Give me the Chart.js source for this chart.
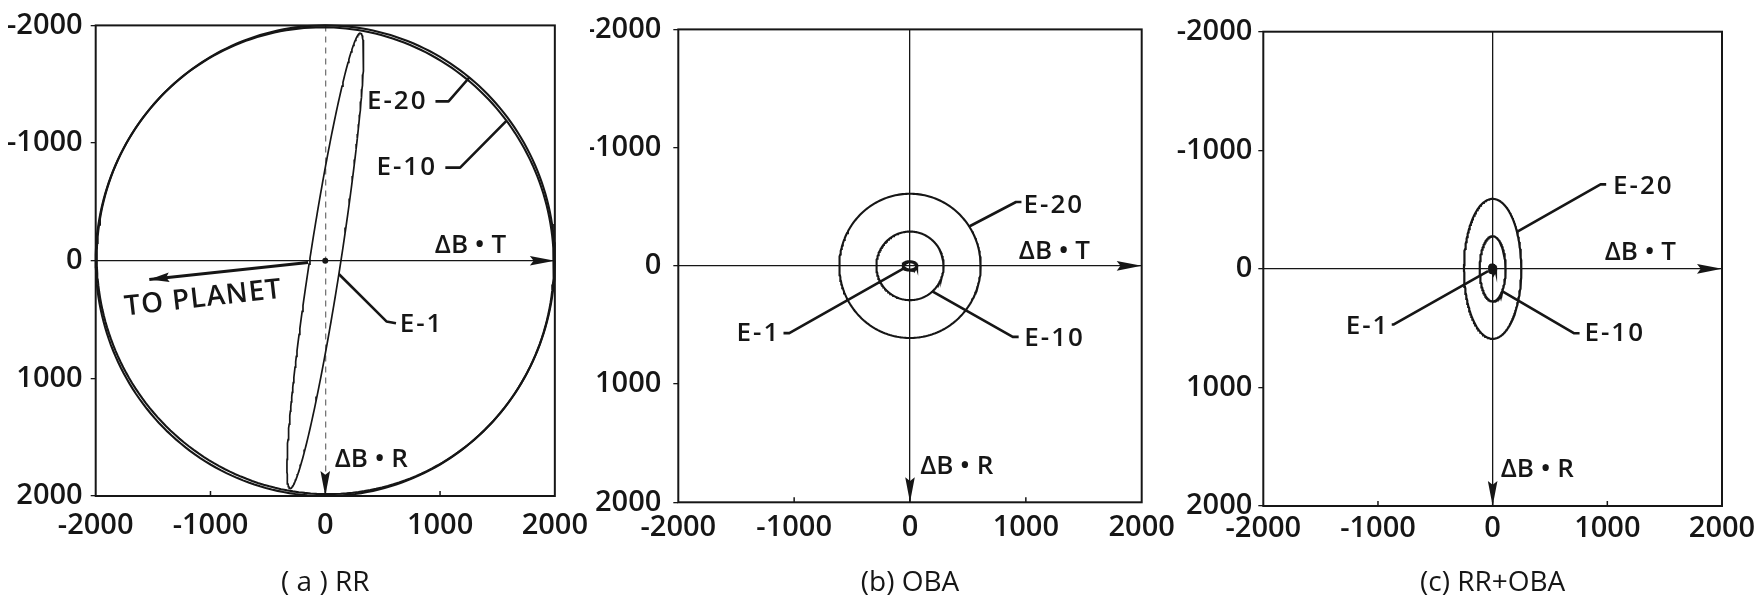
<!DOCTYPE html>
<html>
<head>
<meta charset="utf-8">
<script src="https://cdn.jsdelivr.net/npm/chart.js@4.4.1/dist/chart.umd.min.js"></script>
<style>
  html, body { margin: 0; padding: 0; background: #fff; }
  body { width: 1762px; height: 596px; position: relative; overflow: hidden; }
  .panel { position: absolute; top: 0; height: 596px; }
  #panelA { left: 0; width: 600px; }
  #panelB { left: 590px; width: 600px; }
  #panelC { left: 1175px; width: 587px; }
</style>
</head>
<body>
<div class="panel" id="panelA"><canvas id="chartA"></canvas></div>
<div class="panel" id="panelB"><canvas id="chartB"></canvas></div>
<div class="panel" id="panelC"><canvas id="chartC"></canvas></div>
<script>
const ink = "#161616";
const face = "'Open Sans', Lato, sans-serif";

// Axis ticks (km) and text
const axisTicks = [-2000, -1000, 0, 1000, 2000];
const captions = ["( a ) RR", "(b) OBA", "(c) RR+OBA"];
const ellipseNames = ["E-1", "E-10", "E-20"];
const axisNames = ["ΔB • T", "ΔB • R"];
const planetLabel = "TO PLANET";

// Dispersion ellipses in the B-plane, ordered E-1, E-10, E-20:
// first semi-axis, second semi-axis (km) and tilt of the first axis from ΔB·T (deg, toward +R)
const rrSemiA = [1958, 2000, 2000];
const rrSemiB = [135, 1975, 2000];
const rrTilt = [-81, 37, 0];

const obaSemiA = [60, 290, 610];
const obaSemiB = [35, 290, 610];
const obaTilt = [0, 0, 0];

const rrObaSemiA = [28, 113, 250];
const rrObaSemiB = [32, 275, 590];
const rrObaTilt = [0, 0, 0];

// aim point and the direction to the planet (RR panel)
const aimPoint = [0, 0];
const planetArrowStart = [-150, 15];
const planetArrowEnd = [-1533, 159];

function ellipseOutline(a, b, tiltDeg) {
    const t = tiltDeg * Math.PI / 180;
    const pts = [];
    for (let i = 0; i <= 240; i++) {
        const s = i / 240 * 2 * Math.PI;
        const u = a * Math.cos(s), v = b * Math.sin(s);
        pts.push({ x: u * Math.cos(t) - v * Math.sin(t), y: u * Math.sin(t) + v * Math.cos(t) });
    }
    return pts;
}

function arrowHead(ctx, tip, from, len, half) {
    const ang = Math.atan2(tip[1] - from[1], tip[0] - from[0]);
    ctx.save();
    ctx.translate(tip[0], tip[1]);
    ctx.rotate(ang);
    ctx.beginPath();
    ctx.moveTo(0, 0);
    ctx.lineTo(-len, -half);
    ctx.lineTo(-len * 0.85, 0);
    ctx.lineTo(-len, half);
    ctx.closePath();
    ctx.fill();
    ctx.restore();
}

// frame, axis arrows, leader lines and labels, all placed in data units
const panelMarks = {
    id: "panelMarks",
    afterDatasetsDraw(chart, args, opts) {
        const { ctx, chartArea: area, scales: { x, y } } = chart;
        const px = p => [x.getPixelForValue(p[0]), y.getPixelForValue(p[1])];
        ctx.save();
        ctx.strokeStyle = ink;
        ctx.fillStyle = ink;

        ctx.lineWidth = 2;
        ctx.strokeRect(area.left, area.top, area.right - area.left, area.bottom - area.top);

        // short inward ticks along the bottom edge
        ctx.lineWidth = 1.5;
        axisTicks.slice(1, -1).forEach(v => {
            const xp = x.getPixelForValue(v);
            ctx.beginPath();
            ctx.moveTo(xp, area.bottom);
            ctx.lineTo(xp, area.bottom - 5);
            ctx.stroke();
        });

        const origin = px(aimPoint);
        arrowHead(ctx, px([axisTicks[4], 0]), origin, 25, 4.8);
        arrowHead(ctx, px([0, axisTicks[4]]), origin, 25, 4.8);

        ctx.lineWidth = 2.6;
        ctx.lineJoin = "round";
        (opts.leaders || []).forEach(path => {
            ctx.beginPath();
            path.forEach((p, i) => {
                const q = px(p);
                if (i === 0) ctx.moveTo(q[0], q[1]); else ctx.lineTo(q[0], q[1]);
            });
            ctx.stroke();
        });

        (opts.arrows || []).forEach(a => {
            const s = px(a.from), e = px(a.to);
            ctx.lineWidth = 3;
            ctx.beginPath();
            ctx.moveTo(s[0], s[1]);
            ctx.lineTo(e[0], e[1]);
            ctx.stroke();
            arrowHead(ctx, e, s, 20, 4.8);
        });

        ctx.textBaseline = "middle";
        (opts.labels || []).forEach(l => {
            const q = px(l.at);
            ctx.save();
            ctx.translate(q[0], q[1]);
            if (l.rotate) ctx.rotate(l.rotate * Math.PI / 180);
            ctx.font = "600 " + (l.size || 26) + "px " + face;
            ctx.letterSpacing = (l.spacing || 0) + "px";
            ctx.textAlign = l.align || "center";
            ctx.fillText(l.text, 0, 0);
            ctx.restore();
        });
        ctx.restore();
    }
};

const rrMarks = {
    leaders: [
        [[118, 113], [533, 516], [616, 532]],
        [[1576, -1187], [1175, -791], [1046, -791]],
        [[1255, -1557], [1074, -1354], [960, -1354]]
    ],
    labels: [
        { text: ellipseNames[0], at: [648, 546], align: "left", spacing: 2 },
        { text: ellipseNames[1], at: [974, -791], align: "right", spacing: 2 },
        { text: ellipseNames[2], at: [891, -1354], align: "right", spacing: 2 },
        { text: axisNames[0], at: [1265, -129] },
        { text: axisNames[1], at: [401, 1693] },
        { text: planetLabel, at: [-1063, 322], size: 28, spacing: 1, rotate: -6.5 }
    ],
    arrows: [{ from: planetArrowStart, to: planetArrowEnd }]
};

const obaMarks = {
    leaders: [
        [[-50, 20], [-1042, 569], [-1092, 569]],
        [[193, 215], [887, 601], [938, 601]],
        [[511, -333], [915, -540], [962, -540]]
    ],
    labels: [
        { text: ellipseNames[0], at: [-1120, 569], align: "right", spacing: 2 },
        { text: ellipseNames[1], at: [987, 617], align: "left", spacing: 2 },
        { text: ellipseNames[2], at: [980, -508], align: "left", spacing: 2 },
        { text: axisNames[0], at: [1247, -122] },
        { text: axisNames[1], at: [403, 1699] }
    ]
};

const rrObaMarks = {
    leaders: [
        [[-40, 20], [-862, 469], [-880, 469]],
        [[82, 188], [708, 543], [758, 543]],
        [[212, -312], [941, -712], [990, -712]]
    ],
    labels: [
        { text: ellipseNames[0], at: [-900, 485], align: "right", spacing: 2 },
        { text: ellipseNames[1], at: [800, 543], align: "left", spacing: 2 },
        { text: ellipseNames[2], at: [1050, -696], align: "left", spacing: 2 },
        { text: axisNames[0], at: [1288, -136] },
        { text: axisNames[1], at: [389, 1693] }
    ]
};

function makePanel(id, caption, semiA, semiB, tilt, marks, look) {
    const datasets = semiA.map((a, i) => ({
        label: ellipseNames[i],
        data: ellipseOutline(a, semiB[i], tilt[i]),
        showLine: true,
        pointRadius: 0,
        borderColor: ink,
        backgroundColor: ink,
        borderWidth: look.lineWidths[i],
        fill: look.filled[i] ? "shape" : false,
        tension: 0,
        clip: 4
    }));
    if (look.aimDot) {
        datasets.push({
            label: "aim",
            data: [{ x: aimPoint[0], y: aimPoint[1] }],
            showLine: false,
            pointRadius: 3,
            pointBackgroundColor: ink,
            pointBorderWidth: 0
        });
    }
    const tickFont = { family: face, size: 29, weight: "600" };
    return new Chart(document.getElementById(id), {
        type: "scatter",
        data: { datasets },
        plugins: [panelMarks],
        options: {
            responsive: true,
            maintainAspectRatio: false,
            animation: false,
            devicePixelRatio: 1,
            layout: { padding: { top: look.top, right: look.right, left: 0, bottom: 0 } },
            plugins: {
                legend: { display: false },
                tooltip: { enabled: false },
                panelMarks: marks
            },
            scales: {
                x: {
                    type: "linear",
                    min: axisTicks[0],
                    max: axisTicks[axisTicks.length - 1],
                    afterBuildTicks: s => { s.ticks = axisTicks.map(value => ({ value })); },
                    afterFit: s => { s.height = look.xHeight; },
                    ticks: { callback: v => String(v), font: tickFont, color: ink, padding: look.xPad, maxRotation: 0, autoSkip: false },
                    grid: {
                        drawTicks: false,
                        lineWidth: 1.3,
                        color: c => c.tick && c.tick.value === 0 ? look.crossColor : "rgba(0,0,0,0)"
                    },
                    border: { display: false, dash: look.crossDash },
                    title: {
                        display: true,
                        text: caption,
                        color: ink,
                        font: { family: face, size: 28, weight: "500", lineHeight: 0.9 },
                        padding: { top: 0, bottom: 0 }
                    }
                },
                y: {
                    type: "linear",
                    reverse: true,
                    min: axisTicks[0],
                    max: axisTicks[axisTicks.length - 1],
                    afterBuildTicks: s => { s.ticks = axisTicks.map(value => ({ value })); },
                    afterFit: s => { s.width = look.yWidth; },
                    ticks: { callback: v => String(v), font: tickFont, color: ink, padding: look.yPad, autoSkip: false },
                    grid: {
                        drawTicks: true,
                        tickLength: 5,
                        tickColor: ink,
                        lineWidth: 1.3,
                        color: c => c.tick && c.tick.value === 0 ? ink : "rgba(0,0,0,0)"
                    },
                    border: { display: false }
                }
            }
        }
    });
}

makePanel("chartA", captions[0], rrSemiA, rrSemiB, rrTilt, rrMarks, {
    lineWidths: [1.7, 2.1, 2.1], filled: [false, false, false], aimDot: true,
    top: 21.7, right: 39, yWidth: 95.7, xHeight: 100, xPad: 12, yPad: 8,
    crossColor: "#777", crossDash: [6, 5]
});
makePanel("chartB", captions[1], obaSemiA, obaSemiB, obaTilt, obaMarks, {
    lineWidths: [3, 2.1, 2.1], filled: [false, false, false], aimDot: false,
    top: 25.7, right: 48.3, yWidth: 88.3, xHeight: 93.7, xPad: 8, yPad: 12,
    crossColor: ink, crossDash: []
});
makePanel("chartC", captions[2], rrObaSemiA, rrObaSemiB, rrObaTilt, rrObaMarks, {
    lineWidths: [3, 2.2, 2.2], filled: [true, false, false], aimDot: false,
    top: 31.7, right: 40, yWidth: 88.3, xHeight: 90, xPad: 5, yPad: 6,
    crossColor: ink, crossDash: []
});
</script>
</body>
</html>
